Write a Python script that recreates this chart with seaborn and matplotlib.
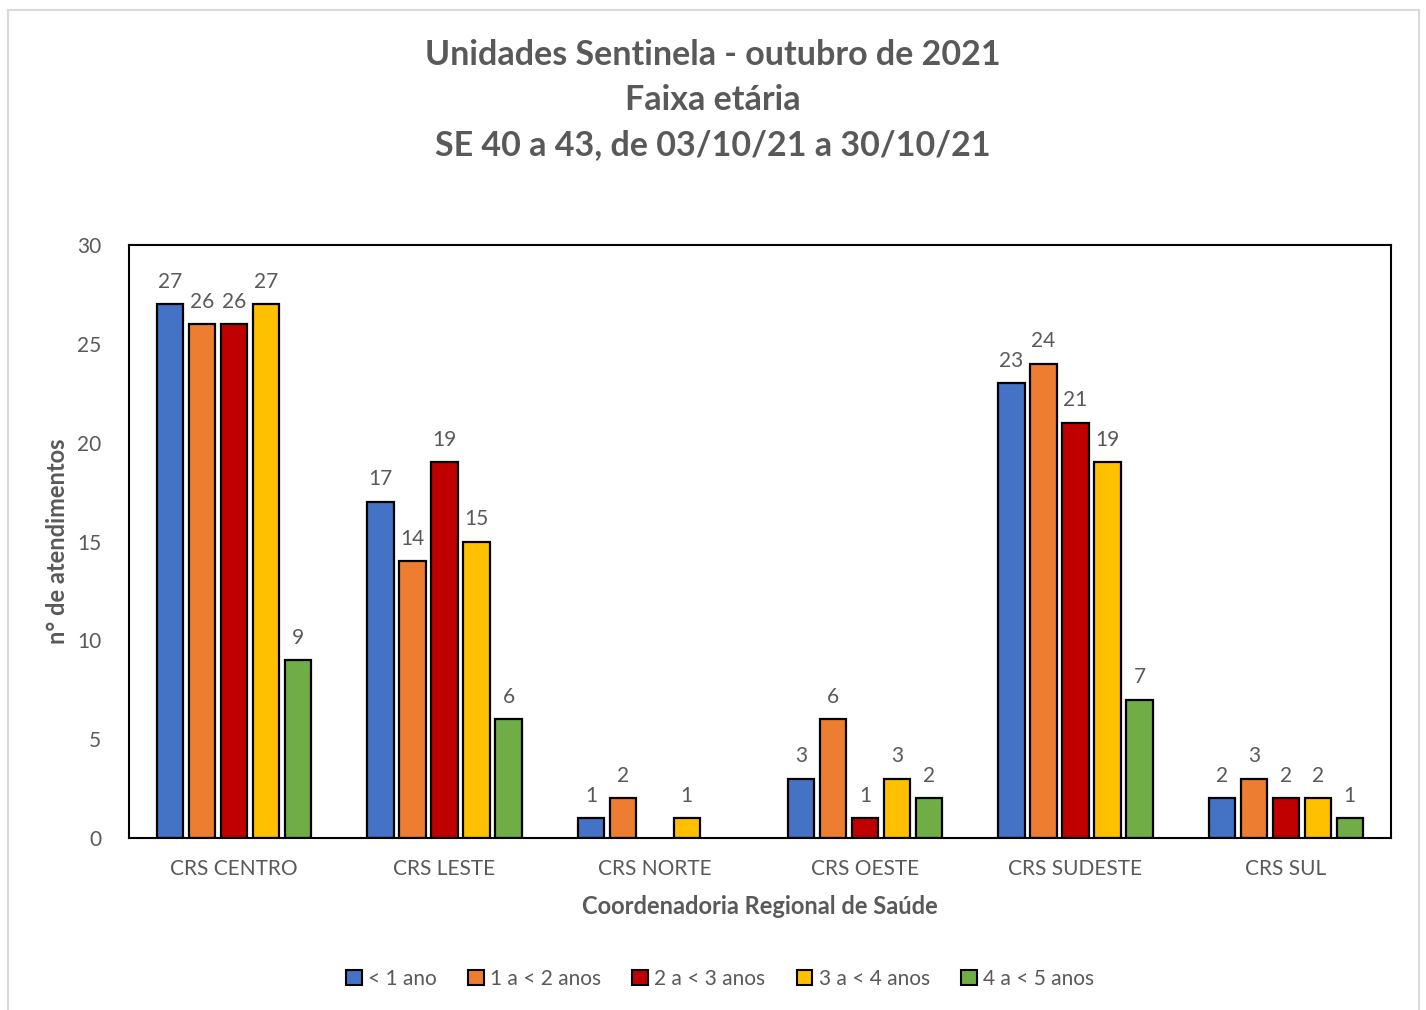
import numpy as np
import pandas as pd
import matplotlib
matplotlib.use("Agg")
import matplotlib.pyplot as plt
from matplotlib.patches import Rectangle
import seaborn as sns

regioes = ["CRS CENTRO", "CRS LESTE", "CRS NORTE", "CRS OESTE", "CRS SUDESTE", "CRS SUL"]
faixas = ["< 1 ano", "1 a < 2 anos", "2 a < 3 anos", "3 a < 4 anos", "4 a < 5 anos"]
menos_1 = [27, 17, 1, 3, 23, 2]
de_1_a_2 = [26, 14, 2, 6, 24, 3]
de_2_a_3 = [26, 19, 0, 1, 21, 2]
de_3_a_4 = [27, 15, 1, 3, 19, 2]
de_4_a_5 = [9, 6, 0, 2, 7, 1]
cores = ["#4472C4", "#ED7D31", "#C00000", "#FFC000", "#70AD47"]

series = [menos_1, de_1_a_2, de_2_a_3, de_3_a_4, de_4_a_5]
rows = []
for faixa, vals in zip(faixas, series):
    for reg, v in zip(regioes, vals):
        rows.append({"regiao": reg, "faixa": faixa, "n": v if v > 0 else np.nan})
df = pd.DataFrame(rows)

sns.set_theme(style="white")
plt.rcParams["font.family"] = ["Lato", "DejaVu Sans"]
cinza = "#595959"

fig = plt.figure(figsize=(14.26, 10.10), dpi=100)
ax = fig.add_axes([129 / 1426, 1 - 838 / 1010, (1391 - 129) / 1426, (838 - 245) / 1010])

sns.barplot(data=df, x="regiao", y="n", hue="faixa", order=regioes, hue_order=faixas,
            palette=cores, width=0.76, gap=0.18, edgecolor="black", linewidth=1.6,
            saturation=1, errorbar=None, ax=ax, legend=False)

for cont in ax.containers:
    labels = ["" if np.isnan(v) else f"{int(v)}" for v in cont.datavalues]
    ax.bar_label(cont, labels=labels, padding=9, fontsize=15, color=cinza)

ax.set_ylim(0, 30)
ax.set_xlim(-0.5, 5.5)
ax.set_yticks(range(0, 31, 5))
ax.tick_params(axis="both", labelsize=15, labelcolor=cinza, length=0)
ax.tick_params(axis="x", pad=15)
ax.tick_params(axis="y", pad=20)
for s in ax.spines.values():
    s.set_visible(True)
    s.set_color("black")
    s.set_linewidth(1.5)
ax.set_xlabel("Coordenadoria Regional de Saúde", fontsize=17, fontweight="bold",
              color=cinza, labelpad=12)
ax.set_ylabel("n° de atendimentos", fontsize=17, fontweight="bold", color=cinza, labelpad=6)

for y, txt in [(55, "Unidades Sentinela - outubro de 2021"), (100, "Faixa etária"),
               (145, "SE 40 a 43, de 03/10/21 a 30/10/21")]:
    fig.text(0.5, 1 - y / 1010, txt, ha="center", va="center",
             fontsize=24.5, fontweight="bold", color=cinza)

handles = [Rectangle((0, 0), 1, 1, facecolor=c, edgecolor="black", linewidth=1.5) for c in cores]
fig.legend(handles, faixas, loc="center", bbox_to_anchor=(0.505, 1 - 979 / 1010), ncol=5,
           frameon=False, fontsize=15, labelcolor=cinza, handlelength=0.75, handleheight=0.75,
           handletextpad=0.3, columnspacing=1.5)

fig.add_artist(Rectangle((8 / 1426, -0.01), (1419 - 8) / 1426, 1 - 10 / 1010 + 0.01,
                         transform=fig.transFigure, fill=False, edgecolor="#d9d9d9",
                         linewidth=1.5))

fig.savefig("out.png", dpi=100, facecolor="white")
